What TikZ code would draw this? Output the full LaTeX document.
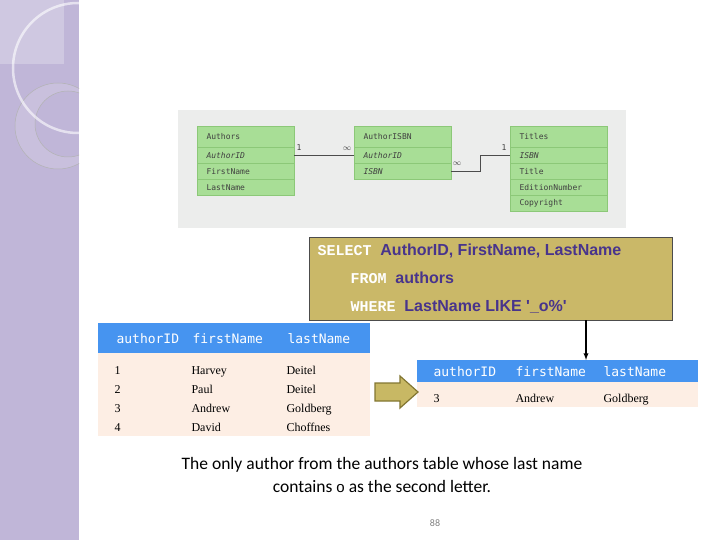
\documentclass[tikz,border=0pt]{standalone}
\usepackage{fontspec}
\setmainfont{Liberation Serif}
\setsansfont{Liberation Sans}
\setmonofont{DejaVu Sans Mono}
\newfontfamily\cour{Liberation Mono}
\newfontfamily\carl{Carlito}
\newfontfamily\sqlsans{Liberation Sans}
\definecolor{lav}{RGB}{192,182,216}
\definecolor{erbg}{RGB}{236,237,236}
\definecolor{ergreen}{RGB}{168,222,150}
\definecolor{ergreen2}{RGB}{140,200,120}
\definecolor{sqlbg}{RGB}{202,184,104}
\definecolor{sqlink}{RGB}{72,52,140}
\definecolor{hdr}{RGB}{70,148,240}
\definecolor{peach}{RGB}{253,238,228}
\definecolor{olive}{RGB}{200,184,100}
\definecolor{olived}{RGB}{130,118,50}
\tikzset{
 erhead/.style={draw=ergreen2,fill=ergreen,minimum width=97pt,minimum height=21pt,anchor=north west,inner sep=0pt},
 errow/.style={draw=ergreen2,fill=ergreen,minimum width=97pt,minimum height=16pt,anchor=north west,inner sep=0pt},
 ertxt/.style={anchor=west,font=\ttfamily\fontsize{8}{9}\selectfont,text=black!75},
 erlbl/.style={font=\ttfamily\fontsize{8}{9}\selectfont,text=black!75},
 sqltxt/.style={anchor=base west,text=sqlink,font=\sqlsans\bfseries\fontsize{16}{18}\selectfont},
 th/.style={anchor=base west,font=\ttfamily\fontsize{13}{15}\selectfont,text=white},
 td/.style={anchor=base west,font=\fontsize{12}{14}\selectfont},
 captxt/.style={font=\carl\fontsize{17.5}{20}\selectfont}
}
\newcommand{\kwd}[1]{\textcolor{white}{\cour\bfseries\fontsize{15}{18}\selectfont #1}}
\begin{document}
\begin{tikzpicture}[x=1pt,y=-1pt]
\useasboundingbox (0,0) rectangle (720,540);
% sidebar
\fill[lav] (0,0) rectangle (79,540);
\begin{scope}
\clip (0,0) rectangle (79,540);
\fill[white,opacity=0.25] (0,0) rectangle (64,64) ;
\fill[white,opacity=0.15,even odd rule] (58,126) circle (43) (68,124) circle (33);
\draw[black!30,line width=0.5pt] (58,126) circle (43);
\draw[black!30,line width=0.5pt] (68,124) circle (33);
\draw[white,opacity=0.6,line width=2.5pt] (78,68) circle (65);
\end{scope}
% ER diagram
\fill[erbg] (178,110) rectangle (626,228);
\node[erhead] (ah) at (197,126) {};
\node[ertxt] at (ah.west) [xshift=6pt] {Authors};
\node[errow] (a1) at (197,147) {}; \node[ertxt] at (a1.west) [xshift=6pt] {\itshape AuthorID};
\node[errow] (a2) at (197,163) {}; \node[ertxt] at (a2.west) [xshift=6pt] {FirstName};
\node[errow] (a3) at (197,179) {}; \node[ertxt] at (a3.west) [xshift=6pt] {LastName};
\node[erhead] (bh) at (354,126) {};
\node[ertxt] at (bh.west) [xshift=6pt] {AuthorISBN};
\node[errow] (b1) at (354,147) {}; \node[ertxt] at (b1.west) [xshift=6pt] {\itshape AuthorID};
\node[errow] (b2) at (354,163) {}; \node[ertxt] at (b2.west) [xshift=6pt] {\itshape ISBN};
\node[erhead] (ch) at (510,126) {};
\node[ertxt] at (ch.west) [xshift=6pt] {Titles};
\node[errow] (c1) at (510,147) {}; \node[ertxt] at (c1.west) [xshift=6pt] {\itshape ISBN};
\node[errow] (c2) at (510,163) {}; \node[ertxt] at (c2.west) [xshift=6pt] {Title};
\node[errow] (c3) at (510,179) {}; \node[ertxt] at (c3.west) [xshift=6pt] {EditionNumber};
\node[errow] (c4) at (510,195) {}; \node[ertxt] at (c4.west) [xshift=6pt] {Copyright};
\draw[black!70] (a1.east) -- (b1.west);
\draw[black!70] (b2.east) -- ++(29,0) |- (c1.west);
\node[erlbl] at (299,148) {1};
\node[erlbl] at (347,149) {$\infty$};
\node[erlbl] at (457,164) {$\infty$};
\node[erlbl] at (504,148) {1};
% SQL box
\node[draw=black!70,fill=sqlbg,minimum width=363pt,minimum height=83pt,anchor=north west,inner sep=0pt] (sql) at (309,237) {};
\node[sqltxt] at (314,255) {\kwd{SELECT} \ AuthorID, FirstName, LastName};
\node[sqltxt] at (347,283) {\kwd{FROM} \ authors};
\node[sqltxt] at (347,311) {\kwd{WHERE} \ LastName LIKE '\_o\%'};
% left table
\fill[hdr] (98,323) rectangle (370,353);
\fill[peach] (98,353) rectangle (370,436);
\node[th] at (113,343) {authorID};
\node[th] at (189,343) {firstName};
\node[th] at (284,343) {lastName};
\foreach \y/\a/\b/\c in {374/1/Harvey/Deitel,393/2/Paul/Deitel,412/3/Andrew/Goldberg,431/4/David/Choffnes}{
 \node[td] at (111,\y) {\a}; \node[td] at (188,\y) {\b}; \node[td] at (283,\y) {\c};}
% right table
\fill[hdr] (417,360) rectangle (698,382);
\fill[peach] (417,382) rectangle (698,407);
\node[th] (rh) at (430,376) {authorID};
\node[th] at (512,376) {firstName};
\node[th] at (600,376) {lastName};
\node[td] at (430,402) {3}; \node[td] at (512,402) {Andrew}; \node[td] at (600,402) {Goldberg};
\coordinate (rt) at (586,360);
\draw[-latex,line width=1.3pt] (sql.south -| rt) -- (rt);
% block arrow
\draw[olived,fill=olive,line width=1.2pt] (375,383) -- (400,383) -- (400,376) -- (418,392) -- (400,408) -- (400,401) -- (375,401) -- cycle;
% caption
\node[captxt] (c1t) at (382,465) {The only author from the authors table whose last name};
\node[captxt] (c2t) at (382,486) {contains {\sffamily\fontsize{15}{17}\selectfont o} as the second letter.};
\node[font=\carl\fontsize{10}{12}\selectfont,text=black!50] (pg) at (435,523) {88};
\end{tikzpicture}
\end{document}
